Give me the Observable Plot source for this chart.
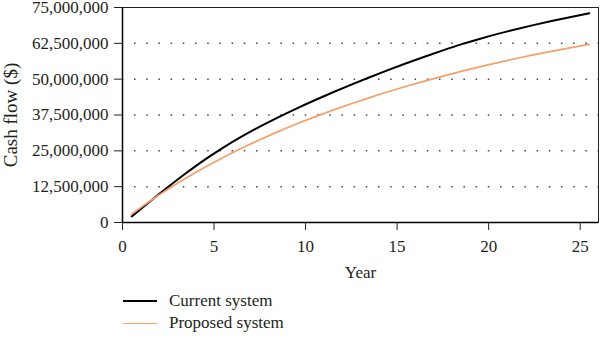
<!DOCTYPE html>
<html>
<head>
<meta charset="utf-8">
<script src="https://cdn.jsdelivr.net/npm/d3@7"></script>
<script src="https://cdn.jsdelivr.net/npm/@observablehq/plot@0.6"></script>
<style>
  html, body { margin: 0; padding: 0; background: #fff; }
  body { width: 600px; height: 348px; overflow: hidden; font-family: "Liberation Serif", serif; color: #231f20; }
  svg text { font-family: "Liberation Serif", serif; }
  #legend { position: relative; height: 63px; }
  .item { position: absolute; left: 123px; display: flex; align-items: center; font-size: 17px; }
  .swatch { width: 34px; height: 0; margin-right: 12px; }
</style>
</head>
<body>
<div id="chart"></div>
<div id="legend"></div>
<script>
const years = [0.5,1.5,2.5,3.5,4.5,5.5,6.5,7.5,8.5,9.5,10.5,11.5,12.5,13.5,14.5,15.5,16.5,17.5,18.5,19.5,20.5,21.5,22.5,23.5,24.5,25.5];
const currentSystem = [2.1,7.35,12.45,17.35,21.95,26.15,29.95,33.45,36.7,39.75,42.65,45.43,48.1,50.67,53.15,55.54,57.84,60.04,62.14,64.04,65.79,67.41,68.93,70.36,71.72,73.02];
const proposedSystem = [2.9,7.5,11.7,15.6,19.25,22.67,25.87,28.87,31.69,34.34,36.84,39.2,41.44,43.57,45.59,47.51,49.34,51.08,52.73,54.3,55.79,57.2,58.54,59.81,61.01,62.15];
const seriesNames = ["Current system", "Proposed system"];
const seriesColors = ["#000000", "#f2a06c"];
const xTicks = [0,5,10,15,20,25];
const yTicks = [0,12.5e6,25e6,37.5e6,50e6,62.5e6,75e6];
const gridValues = [12.5e6,25e6,37.5e6,50e6,62.5e6];
const yLabel = "Cash flow ($)";

const data = [];
years.forEach((y, i) => {
  data.push({year: y, value: currentSystem[i] * 1e6, series: seriesNames[0]});
  data.push({year: y, value: proposedSystem[i] * 1e6, series: seriesNames[1]});
});

const fmt = d3.format(",d");

const chart = Plot.plot({
  width: 600,
  height: 285,
  marginLeft: 122,
  marginRight: 2,
  marginTop: 7,
  marginBottom: 63,
  style: {fontFamily: "'Liberation Serif', serif", fontSize: "17px", color: "#231f20", background: "#fff"},
  x: {domain: [0, 26]},
  y: {domain: [0, 75e6]},
  color: {domain: seriesNames, range: seriesColors},
  marks: [
    Plot.ruleY(gridValues, {stroke: "#444", strokeWidth: 1.5, strokeDasharray: "1.5,10.7", strokeDashoffset: -12}),
    Plot.frame({stroke: "#222", strokeWidth: 1}),
    Plot.line(data, {x: "year", y: "value", stroke: "series", curve: "monotone-x"}),
    Plot.ruleX([0], {stroke: "#000", strokeWidth: 1.5}),
    Plot.ruleY([0], {stroke: "#000", strokeWidth: 1.5}),
    Plot.axisX({ticks: xTicks, tickSize: 8, tickPadding: 9, label: "Year", labelAnchor: "center", labelArrow: "none", labelOffset: 55, tickFormat: d => d}),
    Plot.axisY({ticks: yTicks, tickSize: 8, tickPadding: 6, tickFormat: fmt, label: yLabel, labelAnchor: "center", labelArrow: "none", labelOffset: 119})
  ]
});
chart.querySelectorAll("path").forEach(p => {
  const s = p.getAttribute("stroke");
  if (s === "#000000") p.setAttribute("stroke-width", "2");
  if (s === "#f2a06c") p.setAttribute("stroke-width", "1.7");
});
chart.querySelectorAll("text").forEach(t => {
  if (t.textContent === yLabel) t.setAttribute("font-size", "19");
});
document.getElementById("chart").appendChild(chart);

const legend = document.getElementById("legend");
seriesNames.forEach((name, i) => {
  const item = document.createElement("div");
  item.className = "item";
  item.style.top = (6 + i * 22) + "px";
  const sw = document.createElement("span");
  sw.className = "swatch";
  sw.style.borderTop = (i === 0 ? 2 : 1.7) + "px solid " + seriesColors[i];
  const t = document.createElement("span");
  t.textContent = name;
  item.appendChild(sw);
  item.appendChild(t);
  legend.appendChild(item);
});
</script>
</body>
</html>
